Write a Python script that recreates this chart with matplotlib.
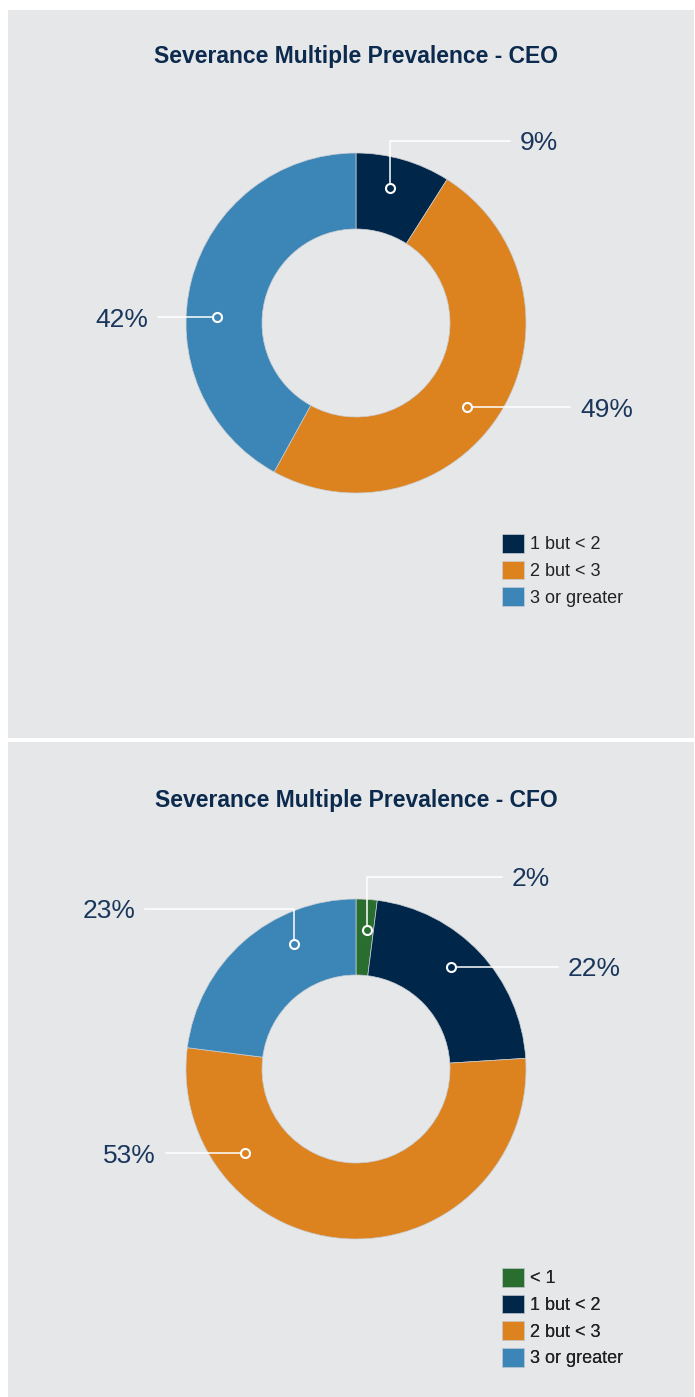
import numpy as np
import matplotlib.pyplot as plt
from matplotlib.patches import Rectangle

# data
ceo_labels = ["1 but < 2", "2 but < 3", "3 or greater"]
ceo_values = [9, 49, 42]
cfo_labels = ["< 1", "1 but < 2", "2 but < 3", "3 or greater"]
cfo_values = [2, 22, 53, 23]

COLORS = {"< 1": "#2a6e2f", "1 but < 2": "#00264a",
          "2 but < 3": "#dc821f", "3 or greater": "#3b86b7"}
BG = "#e6e7e8"
NAVY = "#0c2a4d"
LABEL_COLOR = "#1a365c"
R_OUT, R_IN = 170, 94
H = 1397  # figure height in px, axes uses pixel units with y up


def draw_donut(ax, title, labels, values, center, title_y, legend_xy, callouts):
    cx, cy = center
    wedges, _ = ax.pie(values, colors=[COLORS[l] for l in labels], radius=R_OUT,
                       center=center, startangle=90, counterclock=False,
                       wedgeprops=dict(width=R_OUT - R_IN, linewidth=0.5, edgecolor="#c9ced4"))
    ax.text(cx, title_y, title, ha="center", va="center", fontsize=16.5,
            fontweight="bold", color=NAVY, family="Liberation Sans")

    # callouts: (angle nudge clockwise, elbow height above centre or None, end x offset)
    for w, v, (nudge, elbow, end_dx) in zip(wedges, values, callouts):
        mid = np.deg2rad((w.theta1 + w.theta2) / 2 - nudge)
        r = 0.82 * R_OUT
        mx, my = cx + r * np.cos(mid), cy + r * np.sin(mid)
        ex = cx + end_dx
        if elbow is None:
            ey = my
            ax.plot([mx, ex], [my, ey], color="white", lw=1.1, zorder=3)
        else:
            ey = cy + elbow
            ax.plot([mx, mx, ex], [my, ey, ey], color="white", lw=1.1, zorder=3)
        ax.plot(mx, my, "o", ms=6.5, mfc=w.get_facecolor(), mec="white", mew=1.5, zorder=4)
        side = 1 if end_dx > 0 else -1
        ax.text(ex + side * 10, ey, f"{v}%", ha="left" if side > 0 else "right",
                va="center_baseline", fontsize=19, color=LABEL_COLOR,
                family="Liberation Sans")

    leg = ax.legend(wedges, labels, loc="upper left", bbox_to_anchor=legend_xy,
                    bbox_transform=ax.transData, frameon=False,
                    handlelength=1.22, handleheight=1.22, handletextpad=0.35,
                    labelspacing=0.4, borderpad=0, borderaxespad=0,
                    prop={"family": "Liberation Sans", "size": 13})
    for t in leg.get_texts():
        t.set_color("#222222")
    ax.add_artist(leg)


fig = plt.figure(figsize=(6.95, 13.97), dpi=100, facecolor="white")
ax = fig.add_axes([0, 0, 1, 1])

# panel backgrounds
ax.add_patch(Rectangle((8, H - 738), 686, 728, facecolor=BG, edgecolor="none", zorder=0))
ax.add_patch(Rectangle((8, 0), 686, H - 742, facecolor=BG, edgecolor="none", zorder=0))

draw_donut(ax, "Severance Multiple Prevalence - CEO", ceo_labels, ceo_values,
           (356, H - 323), H - 57, (502, H - 534),
           [(-2, 182, 154), (6.5, None, 214), (-12, None, -198)])
draw_donut(ax, "Severance Multiple Prevalence - CFO", cfo_labels, cfo_values,
           (356, H - 1069), H - 801, (502, H - 1268),
           [(1, 192, 146), (-4, None, 202), (51, None, -190), (15, 160, -211)])

ax.set_xlim(0, 695)
ax.set_ylim(0, H)
ax.set_aspect("auto")
ax.axis("off")

fig.savefig("out.png", dpi=100, facecolor="white")
